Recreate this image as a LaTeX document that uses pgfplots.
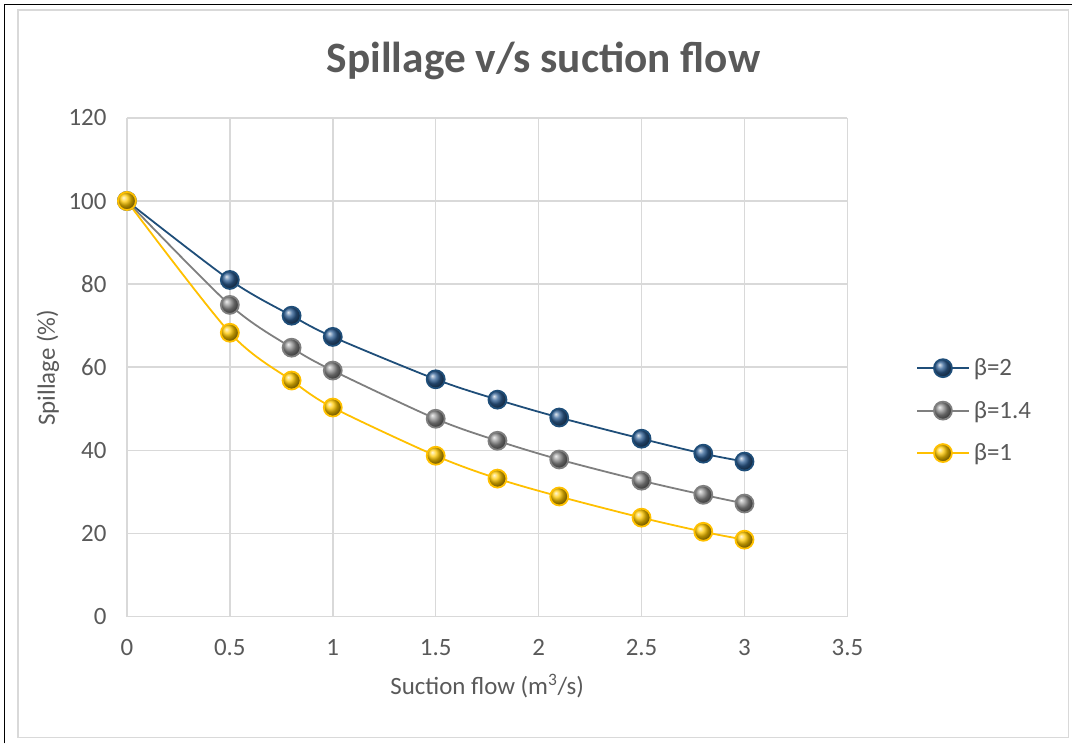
\documentclass[border=0pt]{standalone}
\usepackage{pgfplots}
\pgfplotsset{compat=1.18}
\usepackage{fontspec}
\setmainfont{Carlito}
\definecolor{txt}{HTML}{595959}
\definecolor{gridc}{HTML}{D9D9D9}
\definecolor{cblue}{HTML}{1F4E79}
\definecolor{bblue}{HTML}{2F5F94}
\definecolor{cgray}{HTML}{7F7F7F}
\definecolor{bgray}{HTML}{8C8C8C}
\definecolor{cyel}{HTML}{FFC000}
\definecolor{byel}{HTML}{FFC800}
\begin{document}
\begin{tikzpicture}[x=1bp,y=1bp]
\path (0,0) rectangle (1073,744);
\draw[black,line width=1.5bp] (4.5,0) -- (4.5,739.5) -- (1073,739.5);
\draw[gridc,line width=1.2bp] (18,6) rectangle (1069,734);
\node[text=txt,font=\fontsize{43.5}{50}\selectfont\bfseries] at (544,683) {Spillage v/s suction flow};
\begin{axis}[
  at={(127bp,127bp)}, anchor=south west,
  scale only axis, width=721bp, height=499bp,
  xmin=0, xmax=3.5, ymin=0, ymax=120,
  xtick={0,0.5,...,3.5}, ytick={0,20,...,120},
  xticklabels={0,0.5,1,1.5,2,2.5,3,3.5},
  grid=major,
  major grid style={gridc,line width=1.5bp},
  axis line style={draw=none},
  tick style={draw=none},
  ticklabel style={text=txt,font=\fontsize{25}{28}\selectfont},
  /pgf/number format/assume math mode=true,
  xticklabel style={anchor=center,yshift=-31bp},
  yticklabel style={anchor=east,xshift=-17bp},
  xlabel={Suction flow (m\textsuperscript{3}/s)},
  ylabel={Spillage (\%)},
  label style={text=txt,font=\fontsize{25}{28}\selectfont},
  xlabel style={at={(axis description cs:0.5,0)},anchor=center,yshift=-70bp},
  ylabel style={at={(axis description cs:-0.1096,0.499)},anchor=center},
  clip=false,
  legend style={draw=none,fill=none,at={(1.0957,0.413)},anchor=west,
    inner sep=0pt,row sep=20bp,
    font=\fontsize{25}{28}\selectfont,text=txt,
    nodes={inner xsep=4.5bp}},
  legend cell align=left,
  legend image code/.code={\draw[mark repeat=2,mark phase=2] plot coordinates {(0bp,0bp) (25.5bp,0bp) (51bp,0bp)};},
]
\addplot[cblue,line width=1.8bp,smooth,mark=ball,mark size=9bp,mark options={ball color=bblue}]
coordinates {(0,100)(0.5,81)(0.8,72.4)(1,67.3)(1.5,57.1)(1.8,52.2)(2.1,47.9)(2.5,42.8)(2.8,39.2)(3,37.3)};
\addlegendentry{β=2}
\addplot[cgray,line width=1.8bp,smooth,mark=ball,mark size=9bp,mark options={ball color=bgray}]
coordinates {(0,100)(0.5,75)(0.8,64.7)(1,59.2)(1.5,47.6)(1.8,42.3)(2.1,37.8)(2.5,32.7)(2.8,29.3)(3,27.2)};
\addlegendentry{β=1.4}
\addplot[cyel,line width=1.8bp,smooth,mark=ball,mark size=9bp,mark options={ball color=byel}]
coordinates {(0,100)(0.5,68.3)(0.8,56.8)(1,50.3)(1.5,38.7)(1.8,33.2)(2.1,28.9)(2.5,23.8)(2.8,20.4)(3,18.5)};
\addlegendentry{β=1}
\end{axis}
\end{tikzpicture}
\end{document}
